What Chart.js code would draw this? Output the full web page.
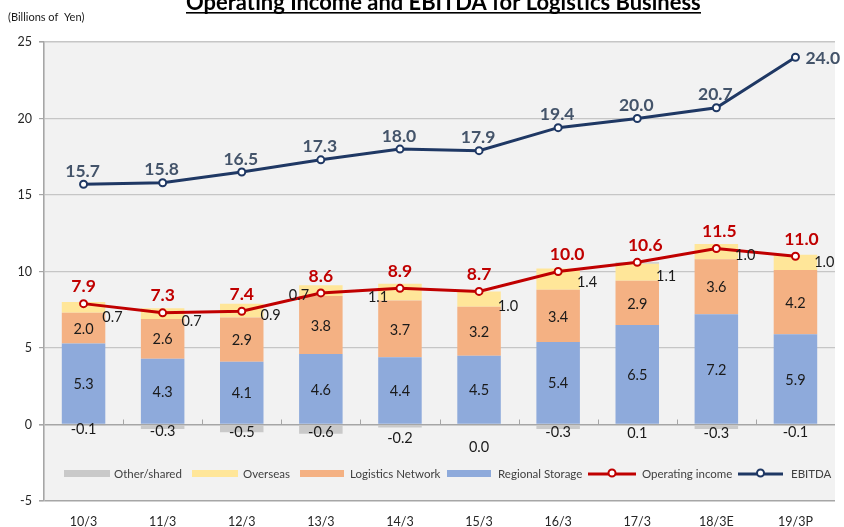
<!DOCTYPE html>
<html><head><meta charset="utf-8">
<script src="https://cdn.jsdelivr.net/npm/chart.js@4.4.0/dist/chart.umd.min.js"></script>
<style>html,body{margin:0;padding:0;background:#fff;}#wrap{width:844px;height:527px;}</style>
</head><body><div id="wrap"><canvas id="c" width="844" height="527"></canvas></div>
<script>
// ---- data ----
const categories = ['10/3','11/3','12/3','13/3','14/3','15/3','16/3','17/3','18/3E','19/3P'];
const regionalStorage = [5.3,4.3,4.1,4.6,4.4,4.5,5.4,6.5,7.2,5.9];
const logisticsNetwork = [2.0,2.6,2.9,3.8,3.7,3.2,3.4,2.9,3.6,4.2];
const overseas = [0.7,0.7,0.9,0.7,1.1,1.0,1.4,1.1,1.0,1.0];
const otherShared = [-0.1,-0.3,-0.5,-0.6,-0.2,0.0,-0.3,0.1,-0.3,-0.1];
const operatingIncome = [7.9,7.3,7.4,8.6,8.9,8.7,10.0,10.6,11.5,11.0];
const ebitda = [15.7,15.8,16.5,17.3,18.0,17.9,19.4,20.0,20.7,24.0];
const yMin = -5, yMax = 25, yStep = 5;
const titleText = 'Operating Income and EBITDA for Logistics Business';
const unitText = '(Billions of  Yen)';

// ---- label placement (style only) ----
const overseasSide = ['r','r','r','l','l','r','r','r','r','r'];
const overseasDy = [10,8,5,5,5,7,3,4,4,0];
const otherDy = [5,7,8,8,14,23,8,9,9,8];
const opDx = [0,0,0,0,0,0,9,8,3,6];

const FONT = 'Lato, "Liberation Sans", sans-serif';
const C = {
  rs:'#8eaadb', ln:'#f4b183', ov:'#ffe699', ot:'#c9c9c9',
  op:'#c00000', eb:'#1f3864', ebText:'#44546a'
};

const fmt = v => v.toFixed(1);

const bgPlugin = {
  id:'bg',
  beforeDraw(chart){
    const {ctx, chartArea:a} = chart;
    ctx.save();
    ctx.fillStyle = '#f2f2f2';
    ctx.fillRect(a.left, a.top, a.right-a.left, a.bottom-a.top);
    ctx.restore();
  },
  beforeDatasetsDraw(chart){
    const {ctx, scales:{x,y}} = chart;
    const y0 = y.getPixelForValue(0);
    ctx.save();
    ctx.strokeStyle = '#a6a6a6'; ctx.lineWidth = 1;
    for (let i = 1; i < categories.length; i++){
      const px = Math.round((x.getPixelForValue(i-1) + x.getPixelForValue(i))/2) + 0.5;
      ctx.beginPath(); ctx.moveTo(px, y0); ctx.lineTo(px, y0-5); ctx.stroke();
    }
    ctx.restore();
  }
};

const labelPlugin = {
  id:'labels',
  afterDraw(chart){
    const {ctx} = chart;
    ctx.save();
    ctx.textBaseline = 'middle';
    [0,1].forEach(di=>{
      const meta = chart.getDatasetMeta(di);
      const vals = chart.data.datasets[di].data;
      ctx.font = '14.5px ' + FONT; ctx.fillStyle = '#1a1a1a'; ctx.textAlign = 'center';
      meta.data.forEach((el,i)=>{
        ctx.fillText(fmt(vals[i]), el.x, (el.y+el.base)/2 + 1);
      });
    });
    {
      const meta = chart.getDatasetMeta(2);
      ctx.font = '14.5px ' + FONT; ctx.fillStyle = '#1a1a1a';
      meta.data.forEach((el,i)=>{
        const cy = (el.y+el.base)/2 + overseasDy[i];
        if (overseasSide[i]==='r'){ ctx.textAlign='left'; ctx.fillText(fmt(overseas[i]), el.x+el.width/2-3, cy); }
        else { ctx.textAlign='right'; ctx.fillText(fmt(overseas[i]), el.x-el.width/2+10, cy); }
      });
    }
    {
      const meta = chart.getDatasetMeta(3);
      const y0 = chart.scales.y.getPixelForValue(0);
      ctx.font = '14.5px ' + FONT; ctx.fillStyle = '#1a1a1a'; ctx.textAlign='center';
      meta.data.forEach((el,i)=>{
        ctx.fillText(fmt(otherShared[i]), el.x, y0 + otherDy[i]);
      });
    }
    {
      const meta = chart.getDatasetMeta(4);
      ctx.font = 'bold 17.5px ' + FONT; ctx.fillStyle = C.op; ctx.textAlign='center';
      meta.data.forEach((el,i)=>{
        ctx.fillText(fmt(operatingIncome[i]), el.x + opDx[i], el.y - 17);
      });
    }
    {
      const meta = chart.getDatasetMeta(5);
      ctx.font = 'bold 17.5px ' + FONT; ctx.fillStyle = C.ebText;
      meta.data.forEach((el,i)=>{
        if (i === meta.data.length-1){ ctx.textAlign='left'; ctx.fillText(fmt(ebitda[i]), el.x+10, el.y+1); }
        else { ctx.textAlign='center'; ctx.fillText(fmt(ebitda[i]), el.x-1, el.y - 13); }
      });
    }
    ctx.restore();
  }
};

const chromePlugin = {
  id:'chrome',
  afterDraw(chart){
    const {ctx} = chart;
    ctx.save();
    ctx.font = 'bold 20px ' + FONT;
    const w20 = ctx.measureText(titleText).width;
    const s = 20 * 515 / w20;
    ctx.font = 'bold ' + s.toFixed(2) + 'px ' + FONT;
    ctx.fillStyle = '#000'; ctx.textAlign='left'; ctx.textBaseline='alphabetic';
    ctx.fillText(titleText, 186, 10);
    ctx.fillRect(186, 12, 515, 1.6);
    ctx.font = '11px ' + FONT; ctx.fillStyle = '#1a1a1a'; ctx.textBaseline='middle';
    ctx.fillText(unitText, 8, 17);
    const ly = 474;
    const items = [
      {ds:3, kind:'box', x0:64, x1:110, tx:114},
      {ds:2, kind:'box', x0:192, x1:238, tx:243},
      {ds:1, kind:'box', x0:300, x1:344, tx:350},
      {ds:0, kind:'box', x0:447, x1:491, tx:498},
      {ds:4, kind:'line', x0:588, x1:636, tx:642},
      {ds:5, kind:'line', x0:738, x1:783, tx:791},
    ];
    ctx.font = '11.5px ' + FONT; ctx.textAlign='left'; ctx.textBaseline='middle';
    items.forEach(it=>{
      const ds = chart.data.datasets[it.ds];
      if (it.kind==='box'){
        ctx.fillStyle = ds.backgroundColor;
        ctx.fillRect(it.x0, ly-4, it.x1-it.x0, 7);
      } else {
        ctx.strokeStyle = ds.borderColor; ctx.lineWidth = 3;
        ctx.beginPath(); ctx.moveTo(it.x0, ly); ctx.lineTo(it.x1, ly); ctx.stroke();
        ctx.beginPath(); ctx.arc((it.x0+it.x1)/2, ly-1, 3.5, 0, Math.PI*2);
        ctx.fillStyle = '#fff'; ctx.fill(); ctx.lineWidth = 2; ctx.stroke();
      }
      ctx.fillStyle = '#404040';
      ctx.fillText(ds.label, it.tx, ly);
    });
    ctx.restore();
  }
};

const barBase = {type:'bar', stack:'bars', barPercentage:0.55, categoryPercentage:1.0, order:2, borderWidth:0};
const lineBase = {type:'line', borderWidth:3, pointRadius:3.5, pointHoverRadius:3.5, pointBackgroundColor:'#fff', pointBorderWidth:2, tension:0, order:1, fill:false};

new Chart(document.getElementById('c'), {
  data:{
    labels: categories,
    datasets:[
      {...barBase, label:'Regional Storage', data:regionalStorage, backgroundColor:C.rs},
      {...barBase, label:'Logistics Network', data:logisticsNetwork, backgroundColor:C.ln},
      {...barBase, label:'Overseas', data:overseas, backgroundColor:C.ov},
      {...barBase, label:'Other/shared', data:otherShared, backgroundColor:C.ot},
      {...lineBase, stack:'op', label:'Operating income', data:operatingIncome, borderColor:C.op, pointBorderColor:C.op},
      {...lineBase, stack:'eb', label:'EBITDA', data:ebitda, borderColor:C.eb, pointBorderColor:C.eb},
    ]
  },
  options:{
    responsive:false, animation:false, devicePixelRatio:1,
    layout:{padding:{top:42, right:9, left:0, bottom:0}},
    plugins:{legend:{display:false}, tooltip:{enabled:false}, title:{display:false}},
    scales:{
      x:{
        stacked:true, offset:true,
        grid:{display:false, drawTicks:false},
        border:{display:false},
        ticks:{padding:13, color:'#262626', font:{family:FONT, size:12.5}, maxRotation:0, autoSkip:false},
        afterFit(s){ s.height = 26; }
      },
      y:{
        stacked:true, min:yMin, max:yMax,
        ticks:{stepSize:yStep, padding:7, color:'#262626', font:{family:FONT, size:12.5}},
        grid:{
          color: c => (c.tick && (c.tick.value===0 || c.tick.value===yMin)) ? '#a6a6a6' : '#c6c6c6',
          lineWidth: c => (c.tick && (c.tick.value===0 || c.tick.value===yMin || c.tick.value===yMax)) ? 1.6 : 1.2,
          tickLength:5, tickColor:'#a6a6a6'
        },
        border:{display:true, color:'#a6a6a6', width:1.6},
        afterFit(s){ s.width = 44; }
      }
    }
  },
  plugins:[bgPlugin, labelPlugin, chromePlugin]
});
</script></body></html>
